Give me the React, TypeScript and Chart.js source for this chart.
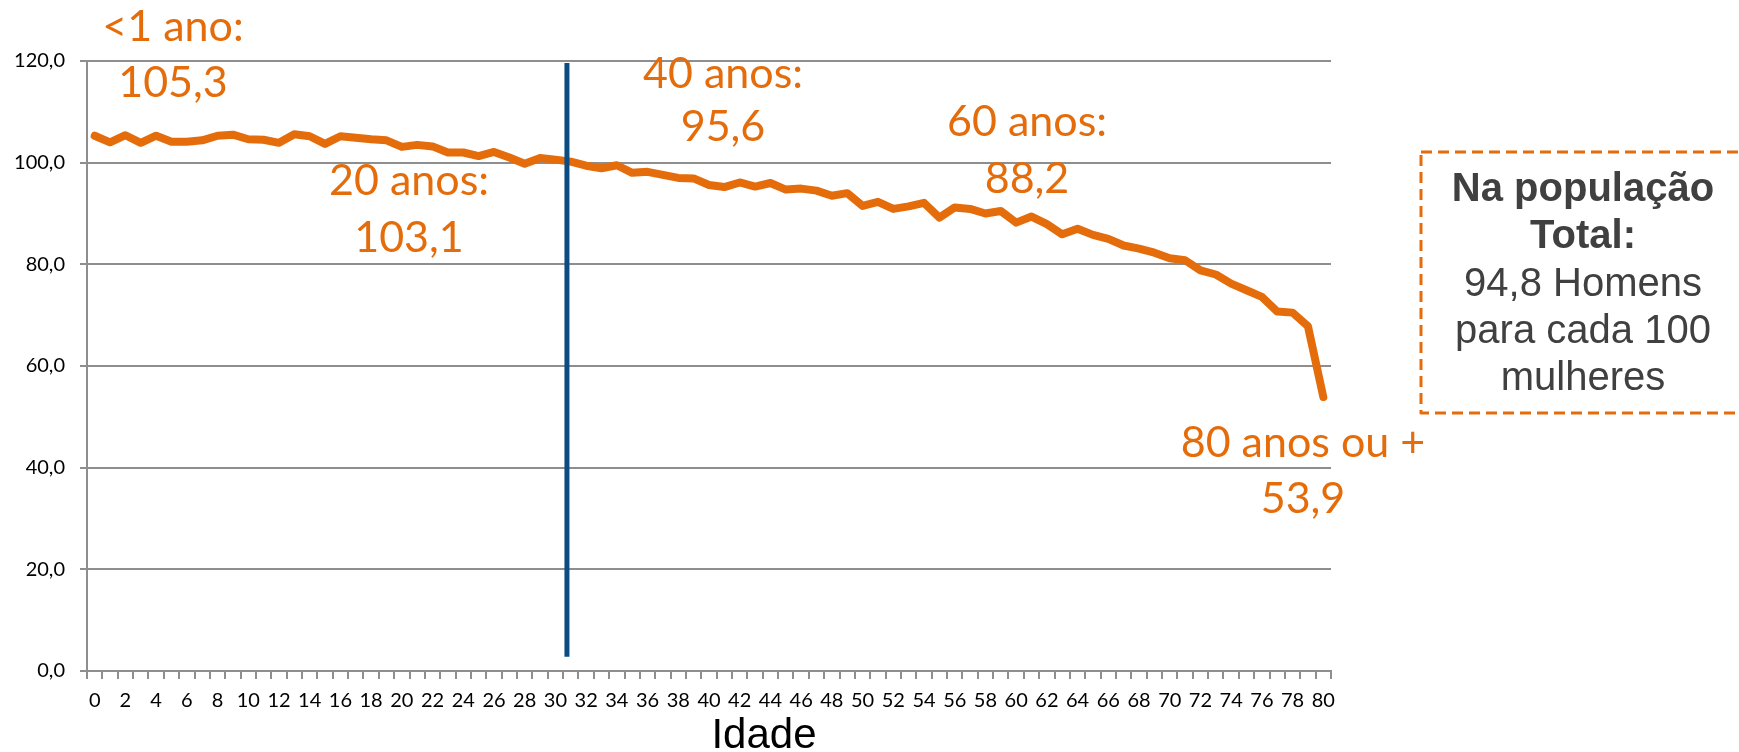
import React, { useEffect, useRef } from 'react';
import { Chart, registerables } from 'chart.js';

Chart.register(...registerables);

// ---------- data ----------
const ages: string[] = [
  '0', '1', '2', '3', '4', '5', '6', '7', '8', '9',
  '10', '11', '12', '13', '14', '15', '16', '17', '18', '19',
  '20', '21', '22', '23', '24', '25', '26', '27', '28', '29',
  '30', '31', '32', '33', '34', '35', '36', '37', '38', '39',
  '40', '41', '42', '43', '44', '45', '46', '47', '48', '49',
  '50', '51', '52', '53', '54', '55', '56', '57', '58', '59',
  '60', '61', '62', '63', '64', '65', '66', '67', '68', '69',
  '70', '71', '72', '73', '74', '75', '76', '77', '78', '79',
  '80',
];

const sexRatio: number[] = [
  105.3, 104.0, 105.4, 103.9, 105.3, 104.1, 104.1, 104.4, 105.3, 105.5,
  104.6, 104.5, 103.9, 105.6, 105.2, 103.7, 105.2, 104.9, 104.6, 104.4,
  103.1, 103.5, 103.2, 102.0, 102.0, 101.3, 102.1, 101.0, 99.8, 100.9,
  100.6, 100.2, 99.4, 98.9, 99.5, 98.0, 98.2, 97.6, 97.0, 96.9,
  95.6, 95.2, 96.1, 95.3, 96.0, 94.7, 94.9, 94.5, 93.5, 94.0,
  91.5, 92.3, 90.9, 91.4, 92.1, 89.2, 91.2, 90.9, 90.0, 90.5,
  88.2, 89.4, 87.9, 85.9, 87.0, 85.8, 85.0, 83.7, 83.1, 82.3,
  81.2, 80.8, 78.8, 78.0, 76.2, 74.9, 73.6, 70.7, 70.5, 67.8,
  53.9,
];

const yMin = 0;
const yMax = 120;
const yStep = 20;

// vertical marker (age position and value range)
const dividerAge = 30.75;
const dividerFrom = 2.8;
const dividerTo = 119.6;

const calloutTitles = ['<1 ano:', '20 anos:', '40 anos:', '60 anos:', '80 anos ou +'];
const calloutValues = ['105,3', '103,1', '95,6', '88,2', '53,9'];

const totalBoxLines = ['Na população', 'Total:', '94,8 Homens', 'para cada 100', 'mulheres'];
const axisTitle = 'Idade';

// ---------- layout / style ----------
const W = 1739;
const H = 752;
const ORANGE = '#E46C0A';
const BLUE = '#0B4C84';
const GRID = '#8E8E8E';

const calloutLayout = [
  { cx: 173, y1: 41, y2: 97 },
  { cx: 409, y1: 195, y2: 252 },
  { cx: 723, y1: 88, y2: 141 },
  { cx: 1027, y1: 136, y2: 193 },
  { cx: 1303, y1: 457, y2: 513 },
];

const boxRect = { x: 1421, y: 152, w: 324, h: 261 };
const boxTextX = 1583;
const boxFirstBaseline = 201;
const boxLineStep = 47.3;

const overlayPlugin = {
  id: 'overlay',
  afterDraw(chart: any) {
    const ctx: CanvasRenderingContext2D = chart.ctx;
    ctx.save();
    ctx.textAlign = 'center';
    ctx.textBaseline = 'alphabetic';

    // orange callouts
    ctx.fillStyle = ORANGE;
    ctx.font = '43px Lato';
    calloutTitles.forEach((t, i) => {
      const L = calloutLayout[i];
      ctx.fillText(t, L.cx, L.y1);
      ctx.fillText(calloutValues[i], L.cx, L.y2);
    });

    // x axis title
    ctx.fillStyle = '#000000';
    ctx.font = '42px "Liberation Sans", Arial, sans-serif';
    ctx.fillText(axisTitle, 764, 748);

    // dashed total box
    ctx.strokeStyle = ORANGE;
    ctx.lineWidth = 3;
    ctx.lineJoin = 'round';
    ctx.setLineDash([11, 6]);
    ctx.strokeRect(boxRect.x, boxRect.y, boxRect.w, boxRect.h);
    ctx.setLineDash([]);

    ctx.fillStyle = '#404040';
    totalBoxLines.forEach((t, i) => {
      ctx.font = (i < 2 ? 'bold ' : '') + '40px "Liberation Sans", Arial, sans-serif';
      ctx.fillText(t, boxTextX, boxFirstBaseline + boxLineStep * i);
    });
    ctx.restore();
  },
};

export default function App() {
  const canvasRef = useRef<HTMLCanvasElement | null>(null);

  useEffect(() => {
    document.body.style.margin = '0';
    document.body.style.overflow = 'hidden';
    const canvas = canvasRef.current;
    if (!canvas) return;

    const chart = new Chart(canvas, {
      type: 'line',
      data: {
        labels: ages,
        datasets: [
          {
            data: [
              { x: dividerAge, y: dividerFrom },
              { x: dividerAge, y: dividerTo },
            ],
            xAxisID: 'xLin',
            yAxisID: 'y',
            borderColor: BLUE,
            borderWidth: 5,
            pointRadius: 0,
            borderCapStyle: 'butt',
          } as any,
          {
            data: sexRatio,
            xAxisID: 'x',
            yAxisID: 'y',
            borderColor: ORANGE,
            borderWidth: 8,
            pointRadius: 0,
            tension: 0,
            borderJoinStyle: 'round',
            borderCapStyle: 'round',
          } as any,
        ],
      },
      options: {
        responsive: false,
        animation: false,
        layout: { padding: { left: 0, right: 408, top: 61, bottom: 0 } },
        plugins: {
          legend: { display: false },
          tooltip: { enabled: false },
          title: { display: false },
        },
        scales: {
          x: {
            type: 'category',
            offset: true,
            grid: {
              offset: true,
              drawOnChartArea: false,
              drawTicks: true,
              tickLength: 8,
              color: GRID,
              lineWidth: 2,
            },
            border: { color: GRID, width: 2 },
            ticks: {
              autoSkip: false,
              maxRotation: 0,
              minRotation: 0,
              padding: 10,
              color: '#000000',
              font: { family: 'Lato', size: 20 },
              callback: (_v: any, i: number) => (i % 2 === 0 ? ages[i] : ''),
            },
            afterFit: (s: any) => {
              s.height = 81;
            },
          },
          xLin: {
            type: 'linear',
            display: false,
            min: -0.5,
            max: 80.5,
          },
          y: {
            min: yMin,
            max: yMax,
            ticks: {
              stepSize: yStep,
              padding: 15,
              color: '#000000',
              font: { family: 'Lato', size: 20 },
              callback: (v: any) => Number(v).toFixed(1).replace('.', ','),
            },
            grid: { color: GRID, lineWidth: 2, tickLength: 7 },
            border: { color: GRID, width: 2 },
            afterFit: (s: any) => {
              s.width = 87;
            },
          },
        } as any,
      },
      plugins: [overlayPlugin],
    });

    return () => {
      chart.destroy();
    };
  }, []);

  return (
    <div style={{ position: 'relative', width: W, height: H, overflow: 'hidden', background: '#ffffff' }}>
      <canvas ref={canvasRef} width={W} height={H} style={{ display: 'block' }} />
    </div>
  );
}
